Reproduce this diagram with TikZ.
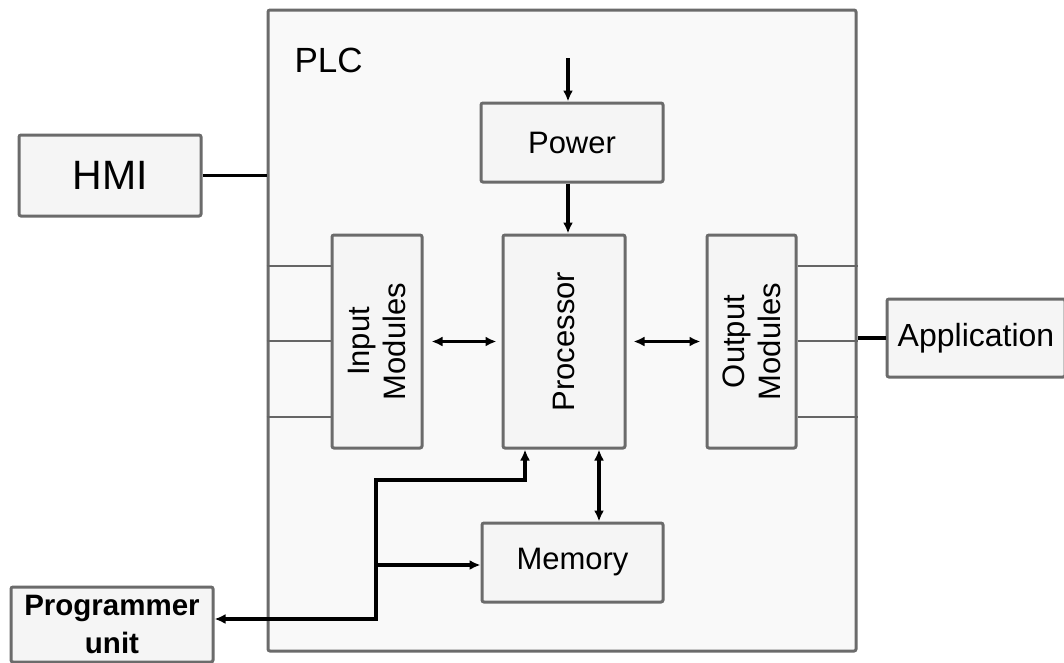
\documentclass[tikz,border=0pt]{standalone}
\usepackage{fontspec}
\setmainfont{Liberation Sans}
\usepackage{tikz}
\usetikzlibrary{arrows.meta}

\begin{document}
\begin{tikzpicture}[
  x=1pt,y=-1pt,
  every node/.style={font=\fontsize{31}{36}\selectfont,align=center,text=black},
  box/.style={draw=black!58,line width=3pt,rounded corners=2pt,fill=black!4,
              inner sep=0pt},
  frame/.style={box,fill=black!2.5},
  wire/.style={draw=black!60,line width=2.4pt},
  link/.style={line width=3.6pt},
  flow/.style={-{Latex[length=11pt,width=10pt]},line width=3.4pt},
  duplex/.style={{Latex[length=11pt,width=10pt]}-{Latex[length=11pt,width=10pt]},
                 line width=3.4pt}
]
\useasboundingbox (0,0) rectangle (1064,662);
\fill[white] (0,0) rectangle (1064,662);
% PLC enclosure
\node[frame,minimum width=588pt,minimum height=641pt] (plc) at (562,330.5) {};
\node[anchor=west,font=\fontsize{35}{40}\selectfont] (plclabel) at (291,60) {PLC};
% outside units
\node[box,minimum width=182pt,minimum height=81pt,
      font=\fontsize{41}{46}\selectfont] (hmi) at (110,175.5) {HMI};
\node[box,minimum width=178pt,minimum height=78pt,
      font=\fontsize{32}{36}\selectfont] (app) at (976,338) {Application};
\node[box,minimum width=202pt,minimum height=75pt,
      font=\fontsize{29.5}{38}\selectfont\bfseries] (prog) at (112,624.5)
  {Programmer\\unit};
% inner blocks
\node[box,minimum width=182pt,minimum height=79pt] (power) at (572,142.5) {Power};
\node[box,minimum width=122pt,minimum height=213pt] (processor) at (564,341.5) {};
\node[rotate=90] (proctext) at (processor) {Processor};
\node[box,minimum width=90pt,minimum height=213pt] (input) at (377,341.5) {};
\node[rotate=90] (inputtext) at (input) {Input\\Modules};
\node[box,minimum width=89pt,minimum height=213pt] (output) at (751.5,341.5) {};
\node[rotate=90] (outputtext) at (output) {Output\\Modules};
\node[box,minimum width=181pt,minimum height=79pt] (memory) at (572.5,562.5) {Memory};
% field wiring
\foreach \y in {266,341,417} {
  \draw[wire] (plc.west |- 0,\y) -- (input.west |- 0,\y);
  \draw[wire] (output.east |- 0,\y) -- (plc.east |- 0,\y);
}
\draw[link] (hmi.east) -- (hmi.east -| plc.west);
\draw[link] (app.west) -- (app.west -| plc.east);
% power supply
\coordinate (supply) at (568,58);
\draw[flow] (supply) -- (supply |- power.north);
\draw[flow] (power.south -| supply) -- (supply |- processor.north);
% data paths
\draw[duplex] ([xshift=8pt]input.east) -- ([xshift=-5pt]processor.west);
\draw[duplex] ([xshift=7pt]processor.east) -- ([xshift=-5pt]output.west);
\draw[duplex] ([xshift=35pt]processor.south)
  -- ([xshift=35pt]processor.south |- memory.north);
% programmer bus
\coordinate (elbow) at (376,480);
\coordinate (drop) at (376,619);
\coordinate (tap) at (376,565);
\draw[duplex] ([xshift=-39pt]processor.south) |- (elbow) -- (drop)
  -- (drop -| prog.east);
\draw[flow] (tap) -- (tap -| memory.west);
\end{tikzpicture}
\end{document}
